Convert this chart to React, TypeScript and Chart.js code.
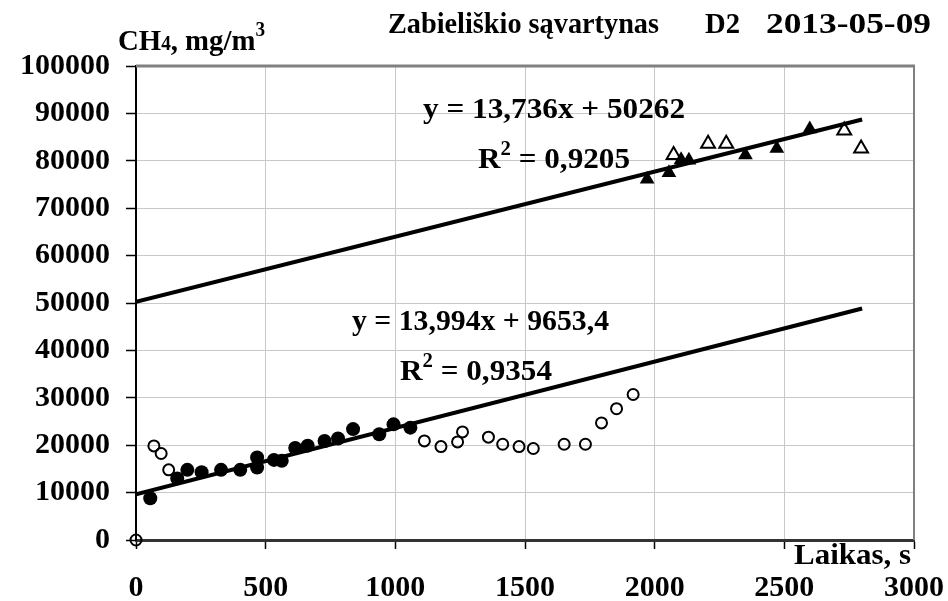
import { useEffect, useRef } from "react";
import { Chart, registerables } from "chart.js";

Chart.register(...registerables);

// ---- data ----
const filledCircleX = [55, 159, 198, 253, 328, 402, 467, 467, 532, 562, 614, 662, 727, 779, 837, 938, 993, 1058];
const filledCircleY = [8800, 13000, 14800, 14300, 14800, 14800, 15300, 17400, 16900, 16700, 19400, 19900, 20900, 21400, 23400, 22300, 24400, 23700];

const openCircleX = [0, 69, 97, 126, 1112, 1176, 1240, 1259, 1359, 1414, 1477, 1532, 1651, 1733, 1795, 1853, 1917];
const openCircleY = [0, 19850, 18250, 14800, 20900, 19700, 20700, 22800, 21700, 20200, 19700, 19300, 20200, 20200, 24700, 27700, 30700];

const filledTriangleX = [1971, 2055, 2102, 2132, 2350, 2471, 2598];
const filledTriangleY = [76100, 77500, 80200, 80100, 81200, 82600, 86700];

const openTriangleX = [2073, 2206, 2276, 2731, 2796];
const openTriangleY = [81200, 83600, 83600, 86400, 82600];

// trendlines: [slope, intercept]
const upperTrend = [13.736, 50262];
const lowerTrend = [13.994, 9653.4];
const trendRangeX = [0, 2800];

const xTicksMin = 0;
const xTicksMax = 3000;
const xTickStep = 500;
const yTicksMin = 0;
const yTicksMax = 100000;
const yTickStep = 10000;

const titleMain = "Zabieliškio sąvartynas";
const titleSite = "D2";
const titleDate = "2013-05-09";
const upperEq = "y = 13,736x + 50262";
const upperR2 = "0,9205";
const lowerEq = "y = 13,994x + 9653,4";
const lowerR2 = "0,9354";
const xAxisLabel = "Laikas, s";

const FONT = '"Liberation Serif", "Times New Roman", serif';

const zip = (xs: number[], ys: number[]) => xs.map((x, i) => ({ x, y: ys[i] }));
const trendPoints = (t: number[]) => trendRangeX.map((x) => ({ x, y: t[0] * x + t[1] }));

type Part = { t: string; s: number; dy?: number };

function drawRich(
  ctx: CanvasRenderingContext2D,
  parts: Part[],
  x: number,
  y: number,
  align: "left" | "center" | "right",
  fitWidth?: number
) {
  ctx.textAlign = "left";
  ctx.textBaseline = "alphabetic";
  const widths = parts.map((p) => {
    ctx.font = `bold ${p.s}px ${FONT}`;
    return ctx.measureText(p.t).width;
  });
  const natural = widths.reduce((a, b) => a + b, 0);
  const sx = fitWidth ? fitWidth / natural : 1;
  const total = natural * sx;
  const startX = align === "center" ? x - total / 2 : align === "right" ? x - total : x;
  ctx.save();
  ctx.translate(startX, y);
  ctx.scale(sx, 1);
  let cx = 0;
  parts.forEach((p, i) => {
    ctx.font = `bold ${p.s}px ${FONT}`;
    ctx.fillText(p.t, cx, p.dy || 0);
    cx += widths[i];
  });
  ctx.restore();
}

const decorPlugin = {
  id: "decor",
  afterDraw(chart: any) {
    const ctx: CanvasRenderingContext2D = chart.ctx;
    const { left, right, top, bottom } = chart.chartArea;
    ctx.save();
    // top and right frame
    ctx.strokeStyle = "#808080";
    ctx.lineWidth = 3;
    ctx.beginPath();
    ctx.moveTo(left, top);
    ctx.lineTo(right + 1, top);
    ctx.stroke();
    ctx.lineWidth = 2;
    ctx.beginPath();
    ctx.moveTo(right, top);
    ctx.lineTo(right, bottom);
    ctx.stroke();

    ctx.fillStyle = "#000";
    // title
    drawRich(ctx, [{ t: titleMain, s: 29 }], 388, 33, "left", 271);
    drawRich(ctx, [{ t: titleSite, s: 29 }], 705, 33, "left", 35);
    drawRich(ctx, [{ t: titleDate, s: 29 }], 766, 33, "left", 165);
    // y axis label
    drawRich(
      ctx,
      [
        { t: "CH", s: 30 },
        { t: "4", s: 20 },
        { t: ", mg/m", s: 30 },
        { t: "3", s: 20, dy: -14 },
      ],
      118,
      50,
      "left",
      147
    );
    // x axis label
    drawRich(ctx, [{ t: xAxisLabel, s: 30 }], 911, 564, "right", 117);
    // equations
    drawRich(ctx, [{ t: upperEq, s: 30 }], 423, 118, "left", 262);
    drawRich(ctx, [{ t: "R", s: 30 }, { t: "2", s: 20, dy: -13 }, { t: " = " + upperR2, s: 30 }], 478, 168, "left", 152);
    drawRich(ctx, [{ t: lowerEq, s: 30 }], 352, 330, "left", 257);
    drawRich(ctx, [{ t: "R", s: 30 }, { t: "2", s: 20, dy: -13 }, { t: " = " + lowerR2, s: 30 }], 400, 380, "left", 152);
    ctx.restore();
  },
};

export default function App() {
  const ref = useRef<HTMLCanvasElement | null>(null);
  useEffect(() => {
    document.body.style.margin = "0";
    const canvas = ref.current!;
    const chart = new Chart(canvas, {
      type: "scatter",
      data: {
        datasets: [
          {
            type: "line",
            data: trendPoints(upperTrend),
            borderColor: "#000",
            borderWidth: 4,
            pointRadius: 0,
            fill: false,
            order: 0,
          } as any,
          {
            type: "line",
            data: trendPoints(lowerTrend),
            borderColor: "#000",
            borderWidth: 4,
            pointRadius: 0,
            fill: false,
            order: 0,
          } as any,
          {
            data: zip(filledCircleX, filledCircleY),
            pointStyle: "circle",
            pointRadius: 7,
            backgroundColor: "#000",
            borderColor: "#000",
            borderWidth: 0,
            order: 1,
            clip: false,
          },
          {
            data: zip(openCircleX, openCircleY),
            pointStyle: "circle",
            pointRadius: 5.5,
            backgroundColor: "rgba(255,255,255,0)",
            borderColor: "#000",
            borderWidth: 2,
            order: 1,
            clip: false,
          },
          {
            data: zip(filledTriangleX, filledTriangleY),
            pointStyle: "triangle",
            pointRadius: 8.5,
            backgroundColor: "#000",
            borderColor: "#000",
            borderWidth: 0,
            order: 1,
            clip: false,
          },
          {
            data: zip(openTriangleX, openTriangleY),
            pointStyle: "triangle",
            pointRadius: 8,
            backgroundColor: "#fff",
            borderColor: "#000",
            borderWidth: 2,
            order: 1,
            clip: false,
          },
        ],
      },
      options: {
        animation: false,
        responsive: false,
        devicePixelRatio: 1,
        layout: { padding: { top: 66, right: 34, left: 0, bottom: 0 } },
        plugins: { legend: { display: false }, tooltip: { enabled: false }, title: { display: false } },
        scales: {
          x: {
            type: "linear",
            min: xTicksMin,
            max: xTicksMax,
            ticks: {
              stepSize: xTickStep,
              color: "#000",
              font: { family: FONT, size: 30, weight: "bold" },
              padding: 21,
              maxRotation: 0,
              callback: (v: any) => String(v),
            },
            grid: { color: "#c8c8c8", lineWidth: 1, tickColor: "#000", tickLength: 9, tickWidth: 1.5 },
            border: { color: "#333", width: 3 },
            afterFit: (axis: any) => {
              axis.height = 61;
              axis.paddingLeft = 0;
              axis.paddingRight = 0;
            },
          },
          y: {
            type: "linear",
            min: yTicksMin,
            max: yTicksMax,
            ticks: {
              stepSize: yTickStep,
              color: "#000",
              font: { family: FONT, size: 30, weight: "bold" },
              padding: 16,
              callback: (v: any) => String(v),
            },
            grid: { color: "#c8c8c8", lineWidth: 1, tickColor: "#000", tickLength: 10, tickWidth: 1.5 },
            border: { color: "#000", width: 2 },
            afterFit: (axis: any) => {
              axis.width = 136;
              axis.paddingTop = 0;
              axis.paddingBottom = 0;
            },
          },
        },
      } as any,
      plugins: [decorPlugin],
    });
    return () => chart.destroy();
  }, []);
  return <canvas ref={ref} width={948} height={601} style={{ display: "block" }} />;
}
